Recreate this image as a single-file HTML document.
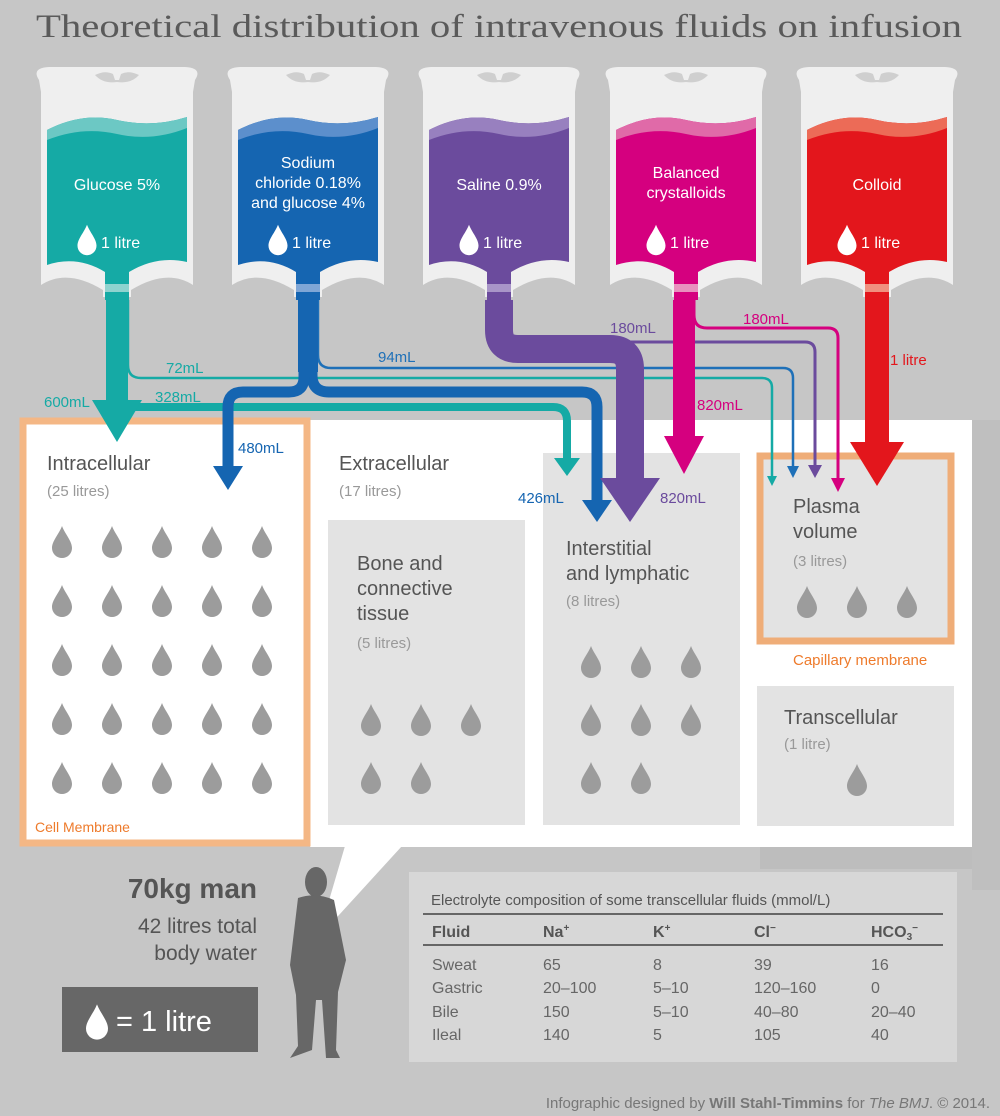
<!DOCTYPE html>
<html><head><meta charset="utf-8"><style>
html,body{margin:0;padding:0;background:#c6c6c6;}
svg{display:block;font-family:"Liberation Sans",sans-serif;}
</style></head><body>
<svg width="1000" height="1116" viewBox="0 0 1000 1116" xmlns="http://www.w3.org/2000/svg" font-family="Liberation Sans, sans-serif">
<defs>
<path id="d" d="M0,-16 C3,-8 10,-1 10,6 A10,10 0 0 1 -10,6 C-10,-1 -3,-8 0,-16Z"/>
<g id="bag">
<path d="M-78,80 Q-86,68 -68,67 L68,67 Q86,68 78,80 L76,92 L76,285 Q50,268 14,290 L14,297 L-14,297 L-14,290 Q-50,268 -76,285 L-76,92 Z" fill="#efefef"/>
<path d="M-22,75 Q-12,70 -4,74 L-2,80 L2,80 L4,74 Q12,70 22,75 Q14,84 0,82 Q-14,84 -22,75Z" fill="#cfcfcf"/>
</g>
</defs>
<rect width="1000" height="1116" fill="#c6c6c6"/>
<text x="36" y="37" font-family="Liberation Serif,serif" font-size="33" fill="#5a5a5a" textLength="926" lengthAdjust="spacingAndGlyphs">Theoretical distribution of intravenous fluids on infusion</text>

<!-- panels -->
<rect x="310" y="420" width="662" height="427" fill="#ffffff"/>
<rect x="760" y="847" width="212" height="22" fill="#bdbdbd"/>
<rect x="972" y="420" width="28" height="470" fill="#bfbfbf"/>
<polygon points="345,846 402,846 318,938" fill="#ffffff"/>
<rect x="23" y="421" width="284" height="422" fill="#ffffff" stroke="#f4b785" stroke-width="7"/>
<rect x="328" y="520" width="197" height="305" fill="#e3e3e3"/>
<rect x="543" y="453" width="197" height="372" fill="#e3e3e3"/>
<rect x="760" y="456" width="191" height="185" fill="#e3e3e3" stroke="#efad78" stroke-width="7"/>
<rect x="757" y="686" width="197" height="140" fill="#e3e3e3"/>

<!-- bags -->
<g transform="translate(117,0)"><use href="#bag"/>
<path d="M-70,130 Q-35,112 0,120 Q35,128 70,117 L70,262 Q40,255 12,272 L12,300 L-12,300 L-12,272 Q-40,255 -70,265Z" fill="#15aaa5"/>
<path d="M-70,130 Q-35,112 0,120 Q35,128 70,117 L70,128 Q35,142 0,134 Q-35,126 -70,140Z" fill="#6cc8c4"/>
<rect x="-12" y="284" width="24" height="8" fill="#8fd3cf"/>
<text x="0" y="190" font-size="16" fill="#fff" text-anchor="middle">Glucose 5%</text>
<use href="#d" transform="translate(-30,240) scale(0.95)" fill="#fff"/><text x="-16" y="248" font-size="16" fill="#fff">1 litre</text></g>

<g transform="translate(308,0)"><use href="#bag"/>
<path d="M-70,130 Q-35,112 0,120 Q35,128 70,117 L70,262 Q40,255 12,272 L12,300 L-12,300 L-12,272 Q-40,255 -70,265Z" fill="#1565b1"/>
<path d="M-70,130 Q-35,112 0,120 Q35,128 70,117 L70,128 Q35,142 0,134 Q-35,126 -70,140Z" fill="#5c8fcc"/>
<rect x="-12" y="284" width="24" height="8" fill="#7fa6d6"/>
<text x="0" y="168" font-size="16" fill="#fff" text-anchor="middle">Sodium</text>
<text x="0" y="188" font-size="16" fill="#fff" text-anchor="middle">chloride 0.18%</text>
<text x="0" y="208" font-size="16" fill="#fff" text-anchor="middle">and glucose 4%</text>
<use href="#d" transform="translate(-30,240) scale(0.95)" fill="#fff"/><text x="-16" y="248" font-size="16" fill="#fff">1 litre</text></g>

<g transform="translate(499,0)"><use href="#bag"/>
<path d="M-70,130 Q-35,112 0,120 Q35,128 70,117 L70,262 Q40,255 12,272 L12,300 L-12,300 L-12,272 Q-40,255 -70,265Z" fill="#6b4b9d"/>
<path d="M-70,130 Q-35,112 0,120 Q35,128 70,117 L70,128 Q35,142 0,134 Q-35,126 -70,140Z" fill="#9880bf"/>
<rect x="-12" y="284" width="24" height="8" fill="#a895c8"/>
<text x="0" y="190" font-size="16" fill="#fff" text-anchor="middle">Saline 0.9%</text>
<use href="#d" transform="translate(-30,240) scale(0.95)" fill="#fff"/><text x="-16" y="248" font-size="16" fill="#fff">1 litre</text></g>

<g transform="translate(686,0)"><use href="#bag"/>
<path d="M-70,130 Q-35,112 0,120 Q35,128 70,117 L70,262 Q40,255 12,272 L12,300 L-12,300 L-12,272 Q-40,255 -70,265Z" fill="#d5007f"/>
<path d="M-70,130 Q-35,112 0,120 Q35,128 70,117 L70,128 Q35,142 0,134 Q-35,126 -70,140Z" fill="#e06aa8"/>
<rect x="-12" y="284" width="24" height="8" fill="#e891be"/>
<text x="0" y="178" font-size="16" fill="#fff" text-anchor="middle">Balanced</text>
<text x="0" y="198" font-size="16" fill="#fff" text-anchor="middle">crystalloids</text>
<use href="#d" transform="translate(-30,240) scale(0.95)" fill="#fff"/><text x="-16" y="248" font-size="16" fill="#fff">1 litre</text></g>

<g transform="translate(877,0)"><use href="#bag"/>
<path d="M-70,130 Q-35,112 0,120 Q35,128 70,117 L70,262 Q40,255 12,272 L12,300 L-12,300 L-12,272 Q-40,255 -70,265Z" fill="#e3161c"/>
<path d="M-70,130 Q-35,112 0,120 Q35,128 70,117 L70,128 Q35,142 0,134 Q-35,126 -70,140Z" fill="#ec6b57"/>
<rect x="-12" y="284" width="24" height="8" fill="#f0907f"/>
<text x="0" y="190" font-size="16" fill="#fff" text-anchor="middle">Colloid</text>
<use href="#d" transform="translate(-30,240) scale(0.95)" fill="#fff"/><text x="-16" y="248" font-size="16" fill="#fff">1 litre</text></g>

<!-- flows -->
<g fill="none" stroke-linejoin="round">
<path d="M128,300 L128,365 Q128,378 141,378 L762,378 Q772,378 772,388 L772,478" stroke="#15aaa5" stroke-width="2.5"/>
<path d="M122,300 L122,392 Q122,407 137,407 L553,407 Q567,407 567,421 L567,462" stroke="#15aaa5" stroke-width="8"/>
<path d="M117,300 L117,410" stroke="#15aaa5" stroke-width="22"/>
<path d="M318,300 L318,355 Q318,368 331,368 L783,368 Q793,368 793,378 L793,470" stroke="#1e70b8" stroke-width="2.5"/>
<path d="M312,300 L312,375 Q312,392 329,392 L582,392 Q597,392 597,407 L597,505" stroke="#1565b1" stroke-width="11"/>
<path d="M304,300 L304,377 Q304,392 289,392 L243,392 Q228,392 228,407 L228,470" stroke="#1565b1" stroke-width="11"/>
<path d="M308,300 L308,372" stroke="#1565b1" stroke-width="20"/>
<path d="M600,342 L805,342 Q815,342 815,352 L815,470" stroke="#6b4b9d" stroke-width="3"/>
<path d="M499,300 L499,330 Q499,349 518,349 L610,349 Q630,349 630,369 L630,485" stroke="#6b4b9d" stroke-width="28"/>
<path d="M694,300 L694,315 Q694,328 707,328 L828,328 Q838,328 838,338 L838,484" stroke="#d5007f" stroke-width="3"/>
<path d="M684,300 L684,440" stroke="#d5007f" stroke-width="22"/>
<path d="M877,300 L877,445" stroke="#e3161c" stroke-width="24"/>
</g>
<polygon points="92,400 142,400 117,442" fill="#15aaa5"/>
<polygon points="554,458 580,458 567,476" fill="#15aaa5"/>
<polygon points="767,476 777,476 772,486" fill="#15aaa5"/>
<polygon points="213,466 243,466 228,490" fill="#1565b1"/>
<polygon points="582,500 612,500 597,522" fill="#1565b1"/>
<polygon points="787,466 799,466 793,478" fill="#1e70b8"/>
<polygon points="600,478 660,478 630,522" fill="#6b4b9d"/>
<polygon points="808,465 822,465 815,478" fill="#6b4b9d"/>
<polygon points="831,478 845,478 838,492" fill="#d5007f"/>
<polygon points="664,436 704,436 684,474" fill="#d5007f"/>
<polygon points="850,442 904,442 877,486" fill="#e3161c"/>

<g font-size="15">
<text x="44" y="407" fill="#15aaa5">600mL</text>
<text x="166" y="373" fill="#15aaa5">72mL</text>
<text x="155" y="402" fill="#15aaa5">328mL</text>
<text x="238" y="453" fill="#1565b1">480mL</text>
<text x="378" y="362" fill="#1e70b8">94mL</text>
<text x="518" y="503" fill="#1565b1">426mL</text>
<text x="610" y="333" fill="#6b4b9d">180mL</text>
<text x="660" y="503" fill="#6b4b9d">820mL</text>
<text x="743" y="324" fill="#d5007f">180mL</text>
<text x="697" y="410" fill="#d5007f">820mL</text>
<text x="890" y="365" fill="#e3161c">1 litre</text>
</g>

<g fill="#555" font-size="20">
<text x="47" y="470">Intracellular</text>
<text x="339" y="470">Extracellular</text>
<text x="357" y="570">Bone and</text>
<text x="357" y="595">connective</text>
<text x="357" y="620">tissue</text>
<text x="566" y="555">Interstitial</text>
<text x="566" y="580">and lymphatic</text>
<text x="793" y="513">Plasma</text>
<text x="793" y="538">volume</text>
<text x="784" y="724">Transcellular</text>
</g>
<g fill="#999" font-size="15">
<text x="47" y="496">(25 litres)</text>
<text x="339" y="496">(17 litres)</text>
<text x="357" y="648">(5 litres)</text>
<text x="566" y="606">(8 litres)</text>
<text x="793" y="566">(3 litres)</text>
<text x="784" y="749">(1 litre)</text>
</g>
<text x="35" y="832" font-size="14" fill="#ee7b2c">Cell Membrane</text>
<text x="793" y="665" font-size="15" fill="#ee7b2c">Capillary membrane</text>

<g fill="#9c9c9c">
<use href="#d" x="62" y="542"/><use href="#d" x="112" y="542"/><use href="#d" x="162" y="542"/><use href="#d" x="212" y="542"/><use href="#d" x="262" y="542"/>
<use href="#d" x="62" y="601"/><use href="#d" x="112" y="601"/><use href="#d" x="162" y="601"/><use href="#d" x="212" y="601"/><use href="#d" x="262" y="601"/>
<use href="#d" x="62" y="660"/><use href="#d" x="112" y="660"/><use href="#d" x="162" y="660"/><use href="#d" x="212" y="660"/><use href="#d" x="262" y="660"/>
<use href="#d" x="62" y="719"/><use href="#d" x="112" y="719"/><use href="#d" x="162" y="719"/><use href="#d" x="212" y="719"/><use href="#d" x="262" y="719"/>
<use href="#d" x="62" y="778"/><use href="#d" x="112" y="778"/><use href="#d" x="162" y="778"/><use href="#d" x="212" y="778"/><use href="#d" x="262" y="778"/>
<use href="#d" x="371" y="720"/><use href="#d" x="421" y="720"/><use href="#d" x="471" y="720"/>
<use href="#d" x="371" y="778"/><use href="#d" x="421" y="778"/>
<use href="#d" x="591" y="662"/><use href="#d" x="641" y="662"/><use href="#d" x="691" y="662"/>
<use href="#d" x="591" y="720"/><use href="#d" x="641" y="720"/><use href="#d" x="691" y="720"/>
<use href="#d" x="591" y="778"/><use href="#d" x="641" y="778"/>
<use href="#d" x="807" y="602"/><use href="#d" x="857" y="602"/><use href="#d" x="907" y="602"/>
<use href="#d" x="857" y="780"/>
</g>

<g fill="#676767">
<ellipse cx="316" cy="882" rx="11" ry="15"/>
<path d="M298,898 Q316,892 334,900 L346,960 L338,992 L336,1050 L340,1058 L326,1058 L322,1000 L316,1000 L312,1050 L290,1058 L298,1046 L296,995 L290,965 Z"/>
</g>
<text x="257" y="898" font-size="28" font-weight="bold" fill="#555" text-anchor="end">70kg man</text>
<text x="257" y="933" font-size="21" fill="#555" text-anchor="end">42 litres total</text>
<text x="257" y="960" font-size="21" fill="#555" text-anchor="end">body water</text>
<rect x="62" y="987" width="196" height="65" fill="#676767"/>
<use href="#d" transform="translate(97,1022) scale(1.1)" fill="#fff"/>
<text x="116" y="1031" font-size="29" fill="#fff">= 1 litre</text>

<rect x="409" y="872" width="548" height="190" fill="#d7d7d7"/>
<text x="431" y="905" font-family="Liberation Sans, sans-serif" font-size="15" fill="#555">Electrolyte composition of some transcellular fluids (mmol/L)</text>
<rect x="423" y="913" width="520" height="2" fill="#666"/>
<rect x="423" y="944" width="520" height="2" fill="#666"/>
<g font-size="16" fill="#555" font-weight="bold">
<text x="432" y="937">Fluid</text><text x="543" y="937">Na<tspan font-size="10" dy="-6">+</tspan></text>
<text x="653" y="937">K<tspan font-size="10" dy="-6">+</tspan></text>
<text x="754" y="937">Cl<tspan font-size="10" dy="-6">−</tspan></text>
<text x="871" y="937">HCO<tspan font-size="10" dy="3">3</tspan><tspan font-size="10" dy="-9">−</tspan></text>
</g>
<g font-size="16" fill="#666">
<text x="432" y="970">Sweat</text><text x="543" y="970">65</text><text x="653" y="970">8</text><text x="754" y="970">39</text><text x="871" y="970">16</text>
<text x="432" y="993">Gastric</text><text x="543" y="993">20–100</text><text x="653" y="993">5–10</text><text x="754" y="993">120–160</text><text x="871" y="993">0</text>
<text x="432" y="1017">Bile</text><text x="543" y="1017">150</text><text x="653" y="1017">5–10</text><text x="754" y="1017">40–80</text><text x="871" y="1017">20–40</text>
<text x="432" y="1040">Ileal</text><text x="543" y="1040">140</text><text x="653" y="1040">5</text><text x="754" y="1040">105</text><text x="871" y="1040">40</text>
</g>
<text x="990" y="1108" font-size="15" fill="#777" text-anchor="end">Infographic designed by <tspan font-weight="bold">Will Stahl-Timmins</tspan> for <tspan font-style="italic">The BMJ</tspan>. © 2014.</text>
</svg>
</body></html>
